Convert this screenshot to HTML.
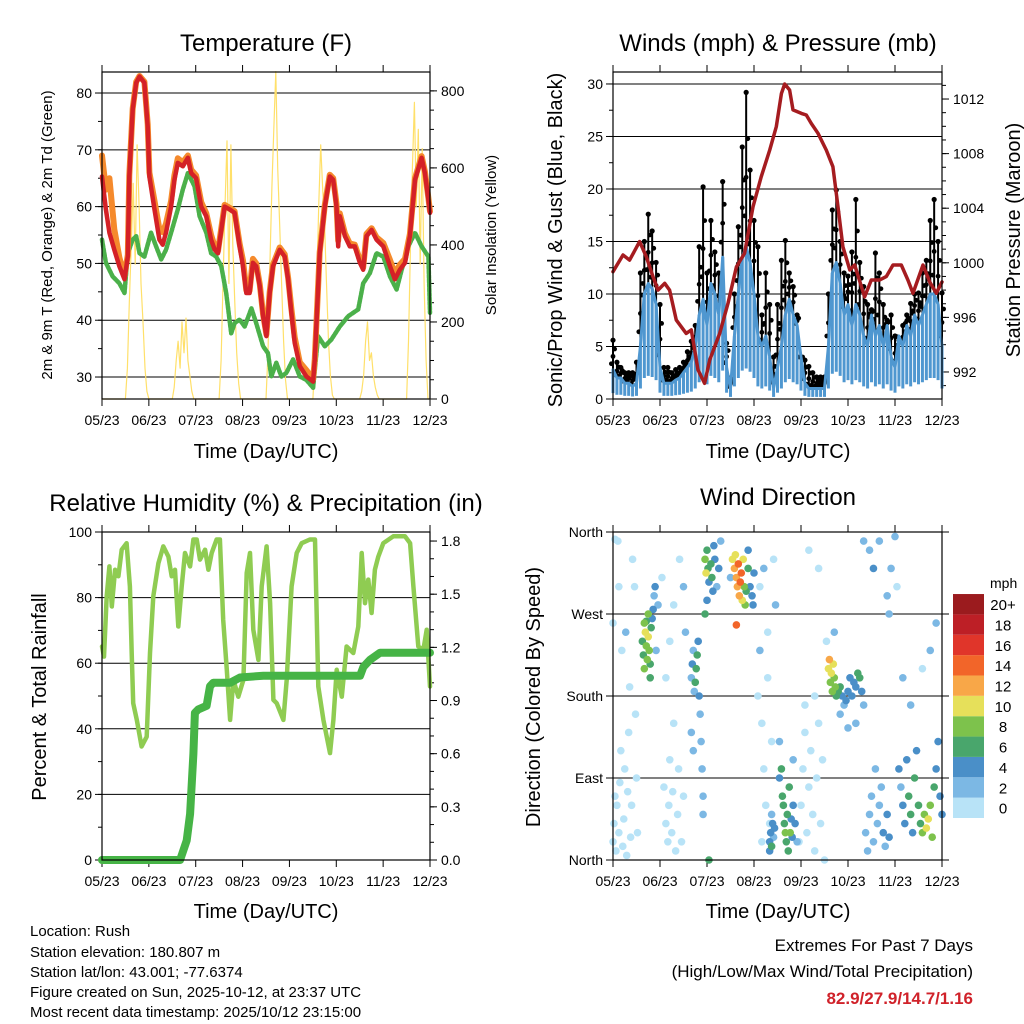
<!DOCTYPE html>
<html><head><meta charset="utf-8"><style>
html,body{margin:0;padding:0;background:#fff;}
svg{display:block;font-family:"Liberation Sans",sans-serif;}
</style></head><body>
<svg id="fig" width="1024" height="1024" viewBox="0 0 1024 1024" xmlns="http://www.w3.org/2000/svg">
<rect width="1024" height="1024" fill="#fff"/>
<g font-size="24" text-anchor="middle" fill="#000">
<text x="266" y="51">Temperature (F)</text>
<text x="778" y="51">Winds (mph) &amp; Pressure (mb)</text>
<text x="266" y="511">Relative Humidity (%) &amp; Precipitation (in)</text>
<text x="778" y="505">Wind Direction</text>
</g>
<g font-size="20" text-anchor="middle">
<text x="266" y="458">Time (Day/UTC)</text>
<text x="778" y="458">Time (Day/UTC)</text>
<text x="266" y="918">Time (Day/UTC)</text>
<text x="778" y="918">Time (Day/UTC)</text>
<text transform="translate(52,235) rotate(-90)" font-size="15">2m &amp; 9m T (Red, Orange) &amp; 2m Td (Green)</text>
<text transform="translate(496,235) rotate(-90)" font-size="15">Solar Insolation (Yellow)</text>
<text transform="translate(562,240) rotate(-90)">Sonic/Prop Wind &amp; Gust (Blue, Black)</text>
<text transform="translate(1020,240) rotate(-90)">Station Pressure (Maroon)</text>
<text transform="translate(46,697) rotate(-90)">Percent &amp; Total Rainfall</text>
<text transform="translate(540,697) rotate(-90)">Direction (Colored By Speed)</text>
</g>
<g font-size="15">
<text x="30" y="936">Location: Rush</text>
<text x="30" y="957">Station elevation: 180.807 m</text>
<text x="30" y="977">Station lat/lon: 43.001; -77.6374</text>
<text x="30" y="997">Figure created on Sun, 2025-10-12, at 23:37 UTC</text>
<text x="30" y="1017">Most recent data timestamp: 2025/10/12 23:15:00</text>
</g>
<g font-size="17" text-anchor="end">
<text x="973" y="951">Extremes For Past 7 Days</text>
<text x="973" y="977">(High/Low/Max Wind/Total Precipitation)</text>
<text x="973" y="1004" font-weight="bold" fill="#d0222a">82.9/27.9/14.7/1.16</text>
</g>
</svg>
<script>
// ---------- data ----------
const dayLabels = ["05/23","06/23","07/23","08/23","09/23","10/23","11/23","12/23"];
const tempT = [0,2,3.8,6.3,8.9,11.5,13.2,14,15.7,17.5,19.2,21.7,23.4,24.3,26.9,29.4,31.1,32.8,35.4,37.1,38.8,41.4,44,45.7,48.2,50.8,53.4,55.9,57.7,59.4,61.1,62.8,65.4,67.9,70.5,72.2,73.9,75.6,77.3,79,80.8,82.5,84.2,85.9,87.6,91,93.6,95.3,97,98.7,101.3,104.7,108.1,109,111.5,114.1,116.7,118.4,120.1,121,121.8,124.4,126.9,129.5,132.1,133.8,135.5,138.1,140.6,144.1,147.5,150,152.6,155.2,157.7,160.3,163.7,165.4,167.2,168];
const temp2m = [65.3,59.5,55.4,52.4,49.5,47.2,51.2,65.3,77.1,81.8,82.9,81.8,74.1,65.3,59.5,54.2,53.3,55.4,60,64.7,67.7,67.1,68.6,65.9,65,60,58.3,54.2,52.4,51.8,55.9,60,59.5,58.9,53,49.5,44.8,44.8,50.1,49.5,46,40.7,37.2,44.8,49.5,52.4,51.2,47.2,41.3,36,31.9,30.1,29.2,33.1,51.8,60,65.3,64.7,60,53,58.3,54.8,53,53,50.1,48.9,54.8,55.9,54.2,53,49.5,47.2,48.9,50.1,54.8,64.7,68.6,65.9,61.2,58.9];
const temp9m = [69,63,65,56,51,47.8,51.5,65.5,77.3,82,83,82,74.5,66,61,56,55.5,57,61,65.5,68.5,67.8,69,66.5,65.5,60.8,58.8,55,53,52.2,56.2,60.3,59.8,59.2,53.5,50.5,45.3,45.2,50.8,50,46.3,41,37.5,45,49.8,52.8,51.6,47.5,42,37,32.6,31.2,29.6,33.2,52,60.3,65.6,65,60.5,54,58.8,55.3,53.5,53.3,50.6,49.3,55.2,56.2,54.6,53.6,50.6,48.2,49.8,50.8,55.2,65,68.9,66.2,61.5,59.2];
const dewT = [0,2,5.5,8.9,11.5,13.2,15.7,17.5,19.2,21.7,25.1,27.7,30.3,32.8,35.4,38.8,41.4,44,47.4,50,53.4,55.9,58.5,61.1,63.6,66.2,67.9,70.5,73.1,76.5,79,82.5,85,86.7,89.3,91.9,94.4,97.9,101.3,104.7,108.1,110.7,114.1,117.5,121.8,126.1,131.2,133.8,137.2,140.6,144.1,147.5,150.9,153.5,156.9,160.3,163.7,167.2,168];
const dewV = [54.2,50.1,47.7,46.5,44.8,51.8,54.2,54.8,51.8,51.2,55.4,53,50.7,52.4,55.4,59.5,63,65.9,63.6,58.3,55.4,51.8,51.2,49.5,44.8,37.7,39.5,40.1,38.9,42.1,39.5,35.4,34.2,30.1,32.5,30.1,30.7,33.1,30.1,29.5,28.1,37.2,35.4,36.6,38.9,40.7,41.9,46.5,48.3,51.8,51.2,47.7,45.4,48.9,53,55.4,53,51.2,41.3];
const solar = [
0,0,0,0,0,0,0,0,0,0,0,0, 0,80,250,400,560,350,660,500,300,200,80,20,
0,0,0,0,0,0,0,0,0,0,0,0, 0,30,100,150,80,200,120,210,100,60,20,0,
0,0,0,0,0,0,0,0,0,0,0,0, 0,100,300,500,670,300,660,400,250,120,40,0,
0,0,0,0,0,0,0,0,0,0,0,0, 0,120,350,550,700,850,600,450,300,150,50,0,
0,0,0,0,0,0,0,0,0,0,0,0, 0,100,300,500,660,550,450,300,150,60,10,0,
0,0,0,0,0,0,0,0,0,0,0,0, 0,20,60,150,200,100,120,60,30,10,0,0,
0,0,0,0,0,0,0,0,0,0,0,0, 0,150,400,600,770,500,700,350,650,300,100,0,
0];
const presT = [0,5.1,8.5,13.6,17,20.4,23,26.4,28.9,32.3,37.4,40,43.4,46.8,49.4,54.5,58.7,63,67.2,71.5,75.7,80,83.4,86,87.7,90.2,91.9,96.2,98.7,101.3,104.7,108.9,112.3,114.9,117.4,120.9,123.4,128.5,131.9,136.2,139.6,143,147.2,150.6,153.2,158.3,161.7,165.1,168];
const presV = [999.35,1000.57,1000.2,1001.55,1000.45,998.98,998.0,998.5,998.0,995.8,994.83,995.08,992.15,991.17,992.88,994.83,997.03,999.7,1000.7,1004.1,1006.3,1008.26,1009.97,1012.4,1013.1,1012.66,1011.2,1010.95,1010.83,1010.2,1009.49,1008.26,1007.04,1004.1,1001.18,999.47,999.84,997.5,998.74,998.74,999.0,999.84,999.84,998.74,997.77,999.84,998.6,997.77,998.6];
const windT2 = [0,2,4,6,8,10,12,14,16,18,20,22,24,26,28,30,32,34,36,38,40,42,44,46,48,50,52,54,56,58,60,62,64,66,68,70,72,74,76,78,80,82,84,86,88,90,92,94,96,98,100,102,104,106,108,110,112,114,116,118,120,122,124,126,128,130,132,134,136,138,140,142,144,146,148,150,152,154,156,158,160,162,164,166,168];
const windV = [2.8,2,2,1.5,1.5,1.2,1.5,5,10,11,10.5,9, 3,1.5,1.5,1.5,1.8,2,2.5,3,3.5,5,8,9.5, 7,11,10,8,13.5,3,1,6,10,13.5,14.5,13, 10,6,5,6,4,1,3,5,8,9.5,8,7, 4,1.5,1,1,1,1,1,5,12,13,11,8, 9,7,9,8,6,5,8,6,7,5,7,4, 3,6,5,7,6,8,7,8,9,10,10,9, 5];
const gustV = [5.6,3.5,3,2.5,2.5,2.5,3.5,12,15,17.6,16,13, 9,3,3,2.5,2.8,3,3.5,4.5,5.5,7,14.5,20.2, 12,17,14,12,20.7,5.3,2,10,16.4,24,29.2,21.8, 17,14.5,8,12,9,4,9,13.2,15.1,12,10.7,8, 4,3.7,3.1,2.5,2.1,2.1,2.1,10,18,19.9,15,12, 11.7,14,19,13,10.7,9,8.5,13.9,12,9,7.5,8, 6,5.6,7,8,9.1,10,10.1,12,13.2,17,19,15, 10.1];
const rhT = [0,1,2.4,3.8,5,6.7,8.4,10.1,12.6,14.3,15.2,16,17.8,20.3,22.9,24.6,26.3,28.9,31.4,34,35.7,37.4,39.1,40.8,42.5,45.1,46.8,48.5,50.2,52.8,54.5,56.2,58.7,60.4,62.1,63.9,65.6,67.3,69.8,72.4,74.1,75.8,77.5,80.1,81.8,84.3,86.1,87.8,89.5,92.9,94.6,97.1,99.7,102.3,106.5,109.1,110.8,113.4,116.8,118.5,120.2,122.8,125.3,128.7,131.3,133,134.7,136.4,138.1,139.8,141.5,144.1,149.2,155.2,157.8,159.5,162,164.6,166.3,168];
const rhV = [65.1,62,80.4,89.5,77.3,88.5,86.5,94.6,96.6,83.4,63.1,47.8,42.7,34.6,37.6,63.1,80.4,90.5,95.6,92.5,86.5,88.5,71.2,83.4,93.6,89.5,97.7,97.7,91.6,94.6,88.5,93.6,97.7,97.7,73.2,58,42.7,54.9,49.8,54.9,87.5,93.6,70.2,61,83.4,95.6,78.3,48.8,47.8,42.7,54.9,83.4,93.6,96.6,97.7,97.7,52.9,42.7,32.6,42.7,58,49.8,65.1,63.1,71.2,93.6,78.3,85.5,75.3,88.5,92.5,96.6,98.7,98.7,96.6,83.4,65.1,64.1,70.2,52.9];
const rainT = [0,40,43.4,45.1,46.8,47.6,49.3,53.6,55.3,57,65.6,70.7,82.6,132.2,133.9,137.3,142.4,168];
const rainV = [0,0,0.11,0.26,0.6,0.83,0.85,0.87,0.98,1.0,1.0,1.03,1.04,1.04,1.09,1.13,1.17,1.17];
const dirT = [0,0.5,1,1.5,2,3,3.5,4,5,5.5,6,7,7.5,8,9,9.5,10,11,2.5,4.5,6.5,8.5,1,3,12,12.5,11.5,0,
15,15.5,16,16.5,17,17.5,18,18.5,19,19.5,20,20.5,21,21.5,19,16,17,18,22,23,
26,27,28,28.5,29,30,30.5,31,32,33,33.5,34,35,36,27,29,31,25,36,37,
40,40.5,41,41.5,42,42.5,43,43.5,44,44.5,45,45.5,40,41,46,46,
47,47.5,48,48.5,49,50,50.5,51,51.5,52,53,54,55,47,48,49,
61,62,62.5,63,63.5,64,64.5,65,65.5,66,66.5,67,67.5,68,69,70,71,72,71.5,63,60,69,
74,75,76,77,78,79,76,80,81,82,83,75,77,79,
80,80.5,81,81.5,82,82.5,81,80,
85,86,86.5,87,87.5,88,88.5,89,89.5,90,90.5,91,91.5,92,93,94,92,85,
95,96,97,98,99,100,101,102,103,104,105,106,107,98,103,100,105,108,
110,110.5,111,111.5,112,112.5,113,113.5,114,115,116,117,118,119,120,121,122,123,124,125,126,127,128,116,120,124,109,113,
129,130,131,132,133,134,135,136,137,138,139,140,141,
128,131,133,136,140,141,142,144,145,
146,147,148,149,150,151,152,153,154,155,156,157,158,159,160,161,162,163,164,165,166,167,168,148,152,158,162,165];
const dirV = [20,40,70,10,60,30,85,120,15,45,100,5,75,140,25,60,330,300,350,230,250,190,352,300,90,30,160,260,
240,225,260,250,235,220,245,230,215,255,265,275,290,300,200,210,262,270,230,280,
80,40,20,60,110,30,75,150,10,50,100,330,20,70,200,240,280,310,300,250,
200,215,230,185,195,210,225,240,180,160,130,100,140,120,70,50,
330,315,340,320,305,325,310,295,345,330,300,320,350,270,285,0,
330,320,335,310,300,325,290,305,315,285,330,300,280,295,320,300,290,315,280,258,310,340,
180,230,150,100,60,200,20,40,130,330,280,300,320,250,
20,30,15,40,25,35,50,10,
90,100,70,60,40,30,20,50,10,80,30,45,25,60,40,20,110,130,
20,60,100,140,30,80,120,50,10,90,150,40,110,170,180,340,320,0,
210,220,195,205,185,215,200,190,180,185,190,180,170,175,185,200,180,195,190,205,200,185,170,160,145,150,240,250,
30,10,50,70,20,100,40,60,80,30,15,50,25,
350,340,320,350,290,270,320,355,300,
100,80,60,40,110,70,50,30,90,120,60,40,30,50,35,45,60,25,80,100,130,70,50,200,170,210,230,260];
const dirS = [0.5,1,0.5,1,1,0.5,1,1,0.5,1,1,0.5,1,1.5,0.5,1,1,1.5,1,0.5,2.5,1,1,1.5,1,1,1,1,
6,7,8,10,9,8,10,9,7,6,4,4,3,4,6,8,7,8,2,2,
0.5,1,0.5,1,1,0.5,1,1,0.5,1,1,1,1,1,1,1,1,1,2,2,
3,4,3,3,6,6,6,4,4,3,3,3,2,2,3,2,
8,10,6,6,5,6,6,4,5,4,3,4,2,6,4,6,
10,12,11,12,13,14,12,14,15,11,10,9,8,6,6,4,5,4,4,15,3,5,
1,2,1,1,1,1,1,1,1,1,2,1,2,1,
4,5,6,4,3,4,3,5,
5,7,6,6,7,8,6,7,6,6,8,4,5,4,4,3,3,2,
1,1,1,1,1,1,1,1,0.5,1,1,1,1,0.5,1,1,1,1,
10,12,9,10,8,10,9,8,6,7,7,5,3,4,5,5,4,5,5,6,6,4,3,3,3,2,1,2,
3,2,2,3,3,2,2,3,2,4,3,4,5,
3,2,4,3,2,2,2,3,1,
4,3,5,5,4,6,7,5,6,4,6,7,8,9,10,10,8,9,7,5,4,5,4,2,2,1,2,2];
const speedBins = ["0","2","4","6","8","10","12","14","16","18","20+"];
const binColors = ["#b8e3f7","#7cb8e4","#4a8fc8","#49a66c","#7dc24c","#e6e05a","#f8a748","#f26529","#e0352a","#bd1f26","#9b1b1e"];

// ---------- helpers ----------
const NS = "http://www.w3.org/2000/svg";
const svg = document.getElementById("fig");
function mk(tag, attrs, parent){ const e=document.createElementNS(NS,tag); for(const k in attrs) e.setAttribute(k,attrs[k]); (parent||svg).appendChild(e); return e; }
function scale(d0,d1,r0,r1){ return v => r0 + (v-d0)/(d1-d0)*(r1-r0); }

function panel(name, P){
  const g = mk("g",{});
  
  
  (P.grid||[]).forEach(v=>{
    const l = mk("line",{x1:P.x0,x2:P.x1,y1:P.ly(v),y2:P.ly(v),stroke:"#000","stroke-width":1},g);
    
    
  });
  const tx = scale(0,168,P.x0,P.x1);
  dayLabels.forEach((lab,i)=>{
    const x = tx(i*24);
    mk("line",{x1:x,x2:x,y1:P.y1,y2:P.y1+7,stroke:"#000"},g);
    mk("line",{x1:x,x2:x,y1:P.y0,y2:P.y0-7,stroke:"#000"},g);
    const t = mk("text",{x:x,y:P.y1+26,"font-size":14,"text-anchor":"middle"},g);
    t.textContent = lab;
    
    
  });
  P.lminor.forEach(v=>{ mk("line",{x1:P.x0,x2:P.x0-4,y1:P.ly(v),y2:P.ly(v),stroke:"#000"},g); });
  P.lmajor.forEach((v,i)=>{
    mk("line",{x1:P.x0,x2:P.x0-7,y1:P.ly(v),y2:P.ly(v),stroke:"#000"},g);
    const t = mk("text",{x:P.x0-10,y:P.ly(v)+5,"font-size":14,"text-anchor":"end"},g);
    t.textContent = P.llab ? P.llab[i] : v;
    
    
  });
  P.rminor.forEach(v=>{ mk("line",{x1:P.x1,x2:P.x1+4,y1:P.ry(v),y2:P.ry(v),stroke:"#000"},g); });
  P.rmajor.forEach((v,i)=>{
    mk("line",{x1:P.x1,x2:P.x1+7,y1:P.ry(v),y2:P.ry(v),stroke:"#000"},g);
    if(P.rlab){
      const t = mk("text",{x:P.x1+11,y:P.ry(v)+5,"font-size":14,"text-anchor":"start"},g);
      t.textContent = P.rlab[i];
      
      
    }
  });
  return tx;
}
function border(name,P){
  const r = mk("rect",{x:P.x0,y:P.y0,width:P.x1-P.x0,height:P.y1-P.y0,fill:"none",stroke:"#000","stroke-width":1.2});
  
  
}
function range(a,b,s){ const o=[]; for(let v=a; v<=b+1e-9; v+=s) o.push(+v.toFixed(3)); return o; }
function line(name, T, V, xs, ys, color, w, extra){
  const p = mk("polyline",Object.assign({points:T.map((t,i)=>xs(t).toFixed(1)+","+ys(V[i]).toFixed(1)).join(" "),fill:"none",stroke:color,"stroke-width":w,"stroke-linejoin":"round","stroke-linecap":"round"},extra||{}));
  
  
  return p;
}

// ---------- Temperature panel ----------
const P1 = {x0:102,x1:430,y0:72,y1:399};
P1.ly = scale(26.13,83.7,399,72); P1.ry = scale(0,849,399,72);
P1.grid = [30,40,50,60,70,80]; P1.lmajor=[30,40,50,60,70,80]; P1.lminor=range(30,80,5);
P1.rmajor=[0,200,400,600,800]; P1.rminor=range(0,800,50); P1.rlab=["0","200","400","600","800"];
const x1s = panel("temperature",P1);
const hours = solar.map((v,i)=>i);
line("solar-insolation-line", hours, solar, x1s, P1.ry, "#ffe06a", 1.2);
line("dewpoint-line", dewT, dewV, x1s, P1.ly, "#4bb04a", 4.5, {"stroke-dasharray":"3 1.5"});
line("temp-9m-line", tempT, temp9m, x1s, P1.ly, "#f58a2c", 6);
line("temp-2m-line", tempT, temp2m, x1s, P1.ly, "#d42127", 4.5);
border("temperature",P1);

// ---------- Winds panel ----------
const P2 = {x0:613,x1:942,y0:72,y1:399};
P2.ly = scale(0,31.14,399,72); P2.ry = scale(990.02,1013.98,399,72);
P2.grid=[5,10,15,20,25,30]; P2.lmajor=[0,5,10,15,20,25,30]; P2.lminor=range(0,30,2.5);
P2.rmajor=[992,996,1000,1004,1008,1012]; P2.rminor=range(991,1013,1); P2.rlab=["992","996","1000","1004","1008","1012"];
const x2s = panel("winds",P2);
const gg = mk("g",{});


windT2.forEach((t,i)=>{
  const x = x2s(t);
  mk("line",{x1:x,x2:x,y1:P2.ly(windV[i]),y2:P2.ly(gustV[i]),stroke:"#000","stroke-width":2},gg);
  [0.2,0.45,0.7].forEach((f,k)=>{
    const v = windV[i] + (gustV[i]-windV[i])*f;
    const d = mk("circle",{cx:x+(k-1)*1.6,cy:P2.ly(v),r:2.4,fill:"#000"},gg);
    
    
  });
  const c = mk("circle",{cx:x,cy:P2.ly(gustV[i]),r:2.6,fill:"#000"},gg);
  
  
});
const bg = mk("g",{});


windT2.forEach((t,i)=>{
  const x = x2s(t);
  const b = mk("line",{x1:x,x2:x,y1:P2.ly(windV[i]*0.2),y2:P2.ly(windV[i]),stroke:"#4f97d0","stroke-width":3},bg);
  
  
});
line("wind-speed-line", windT2, windV, x2s, P2.ly, "#4f97d0", 3);
line("pressure-line", presT, presV, x2s, P2.ry, "#a51c20", 3.5);
border("winds",P2);

// ---------- RH panel ----------
const P3 = {x0:102,x1:430,y0:532,y1:860};
P3.ly = scale(0,100,860,532); P3.ry = scale(0,1.851,860,532);
P3.grid=[20,40,60,80]; P3.lmajor=[0,20,40,60,80,100]; P3.lminor=range(0,100,10);
P3.rmajor=[0,0.3,0.6,0.9,1.2,1.5,1.8]; P3.rminor=range(0,1.8,0.1); P3.rlab=["0.0","0.3","0.6","0.9","1.2","1.5","1.8"];
const x3s = panel("humidity",P3);
line("relative-humidity-line", rhT, rhV, x3s, P3.ly, "#8fcc52", 4.5);
line("precipitation-line", rainT, rainV, x3s, P3.ry, "#46b446", 8);
border("humidity",P3);

// ---------- Wind direction panel ----------
const P4 = {x0:613,x1:942,y0:532,y1:860};
P4.ly = scale(0,360,860,532); P4.ry = P4.ly;
P4.grid=[90,180,270]; P4.lmajor=[0,90,180,270,360]; P4.lminor=[]; P4.llab=["North","East","South","West","North"];
P4.rmajor=[0,90,180,270,360]; P4.rminor=[];
const x4s = panel("wind-direction",P4);
const dg = mk("g",{});


const order = dirS.map((s,i)=>i).sort((a,b)=>dirS[a]-dirS[b]);
order.forEach(i=>{
  const bin = Math.min(10, Math.floor(dirS[i]/2));
  const c = mk("circle",{cx:x4s(dirT[i]),cy:P4.ly(dirV[i]),r:3.8,fill:binColors[bin]},dg);
  
  
});
border("wind-direction",P4);

// colorbar
const cb = mk("g",{});


const cbt = mk("text",{x:990,y:588,"font-size":14},cb);
cbt.textContent = "mph";


speedBins.forEach((lab,i)=>{
  const y = 818 - (i+1)*20.36;
  const r = mk("rect",{x:953,y:y,width:31,height:20.36,fill:binColors[i]},cb);
  
  
  const t = mk("text",{x:1003,y:y+16,"font-size":15,"text-anchor":"middle"},cb);
  t.textContent = lab;
  
  
});
</script>
</body></html>
